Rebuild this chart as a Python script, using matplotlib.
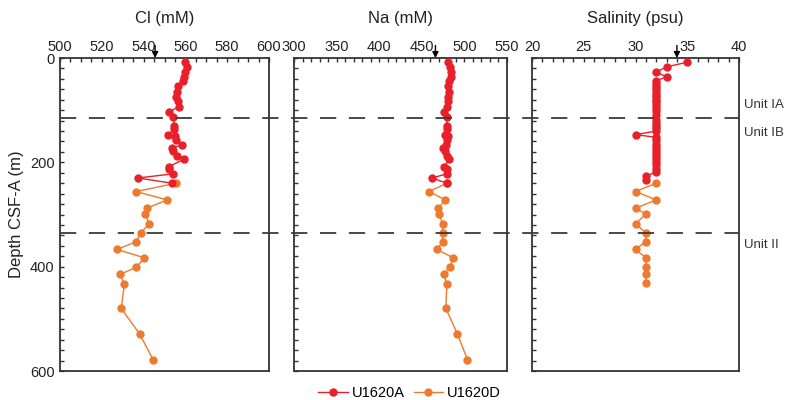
import matplotlib
matplotlib.use("Agg")
import matplotlib.pyplot as plt
import matplotlib.transforms as mtransforms
from matplotlib.lines import Line2D
from matplotlib.ticker import MultipleLocator

plt.rcParams['font.family'] = ['Liberation Sans', 'DejaVu Sans']

# ---------------- data ----------------
depth_A = [8, 17, 27, 36, 44, 54, 65, 74, 83, 93, 103, 113, 130, 137, 147, 149,
           158, 166, 173, 178, 187, 194, 208, 213, 222, 230, 240]
cl_A = [559.8, 560.6, 559.6, 559.3, 559.0, 556.6, 556.1, 555.5, 556.6, 557.1, 552.3,
        554.2, 554.5, 554.7, 551.8, 555.0, 555.5, 558.2, 553.7, 553.9, 555.8, 559.3,
        552.3, 552.3, 554.2, 537.3, 553.6]
na_A = [481.3, 482.9, 483.7, 484.0, 482.0, 481.3, 482.0, 481.0, 481.3, 480.0, 475.8,
        480.0, 479.0, 480.0, 477.5, 481.0, 480.0, 478.6, 475.0, 477.5, 479.5, 482.0,
        476.6, 479.5, 479.5, 462.0, 479.5]

depth_D = [240, 256, 272, 288, 299, 318, 335, 352, 367, 383, 401, 415, 433, 480, 529, 578]
cl_D = [555.6, 536.4, 551.3, 541.5, 540.8, 542.7, 538.6, 536.5, 527.3, 540.4, 536.5,
        528.7, 530.8, 529.3, 538.1, 544.5]
na_D = [479.5, 458.6, 477.4, 469.6, 470.4, 474.3, 474.3, 474.3, 467.7, 486.8, 483.3,
        475.5, 479.4, 478.2, 491.8, 503.6]

sal_depth_A = [8, 17, 27, 36, 44, 50, 55, 60, 65, 70, 75, 80, 85, 90, 96, 102, 110,
               118, 124, 130, 135, 140, 147, 152, 158, 164, 170, 176, 182, 188, 194,
               200, 206, 212, 218, 227, 233]
sal_A = [35, 33, 32, 33, 32, 32, 32, 32, 32, 32, 32, 32, 32, 32, 32, 32, 32,
         32, 32, 32, 32, 32, 30, 32, 32, 32, 32, 32, 32, 32, 32,
         32, 32, 32, 32, 31, 31]
sal_depth_D = [240, 256, 272, 288, 299, 318, 335, 352, 367, 383, 401, 415, 432]
sal_D = [32, 30, 32, 30, 31, 30, 31, 31, 30, 31, 31, 31, 31]

titles = ["Cl (mM)", "Na (mM)", "Salinity (psu)"]
xlims = [(500, 600), (300, 550), (20, 40)]
xmajor = [20, 50, 5]
xminor = [5, 10, 1]
seawater = [545.5, 466, 34]
unit_depths = [115, 335]
unit_labels = ["Unit IA", "Unit IB", "Unit II"]

RED = "#E8202A"
ORANGE = "#EE7A30"
SPINE = "#333333"

fig = plt.figure(figsize=(7.85, 4.0), dpi=100)
W, H = 785, 400
top_px, bot_px = 58, 371
panels_px = [(60, 269), (294, 507), (532, 739)]

axes = []
for i, (x0, x1) in enumerate(panels_px):
    ax = fig.add_axes([x0 / W, 1 - bot_px / H, (x1 - x0) / W, (bot_px - top_px) / H])
    axes.append(ax)

series = [
    (depth_A, cl_A, depth_D, cl_D),
    (depth_A, na_A, depth_D, na_D),
    (sal_depth_A, sal_A, sal_depth_D, sal_D),
]

for i, ax in enumerate(axes):
    dA, vA, dD, vD = series[i]
    ax.plot(vD, dD, '-o', color=ORANGE, lw=1.0, ms=5.0, mec=ORANGE, zorder=3)
    ax.plot(vA, dA, '-o', color=RED, lw=1.0, ms=5.0, mec=RED, zorder=4)
    ax.set_xlim(*xlims[i])
    ax.set_ylim(600, 0)
    ax.xaxis.tick_top()
    ax.xaxis.set_major_locator(MultipleLocator(xmajor[i]))
    ax.xaxis.set_minor_locator(MultipleLocator(xminor[i]))
    ax.yaxis.set_major_locator(MultipleLocator(200))
    ax.yaxis.set_minor_locator(MultipleLocator(20))
    ax.tick_params(axis='both', which='both', direction='in', length=3, width=1,
                   color=SPINE, labelsize=10.5, labelcolor='#222222')
    ax.tick_params(axis='x', which='both', top=True, bottom=False, pad=3)
    ax.tick_params(axis='y', which='both', left=True, right=False, pad=4)
    if i > 0:
        ax.tick_params(axis='y', labelleft=False)
    for s in ax.spines.values():
        s.set_color(SPINE)
        s.set_linewidth(1.3)
    ax.text(0.5, 1 + 40 / (bot_px - top_px), titles[i], transform=ax.transAxes,
            ha='center', va='center', fontsize=12, color='#222222')
    ax.annotate('', xy=(seawater[i], 1.0), xycoords=('data', 'axes fraction'),
                xytext=(seawater[i], 1.04), textcoords=('data', 'axes fraction'),
                arrowprops=dict(arrowstyle='-|>,head_length=0.35,head_width=0.18',
                                color='black', lw=1.0, shrinkA=0, shrinkB=0))

axes[0].set_ylabel("Depth CSF-A (m)", fontsize=12, color='#222222', labelpad=4)

# dashed unit boundaries spanning all panels
trans = mtransforms.blended_transform_factory(fig.transFigure, axes[0].transData)
for d in unit_depths:
    fig.add_artist(Line2D([60 / W, 739 / W], [d, d], transform=trans,
                          color='#3a3a3a', lw=1.3, linestyle=(0, (9, 7)), zorder=5))

for lab, ypx in zip(unit_labels, [105, 133, 245]):
    fig.text(744 / W, 1 - ypx / H, lab, fontsize=9.5, color='#333333',
             ha='left', va='center')

handles = [Line2D([], [], color=RED, marker='o', lw=1.0, ms=5, label='U1620A'),
           Line2D([], [], color=ORANGE, marker='o', lw=1.0, ms=5, label='U1620D')]
fig.legend(handles=handles, loc='center', bbox_to_anchor=(0.522, 1 - 393 / H), ncol=2,
           frameon=False, fontsize=10.5, handlelength=2.0, columnspacing=0.6,
           handletextpad=0.3, borderaxespad=0)

fig.savefig("out.png", dpi=100)
